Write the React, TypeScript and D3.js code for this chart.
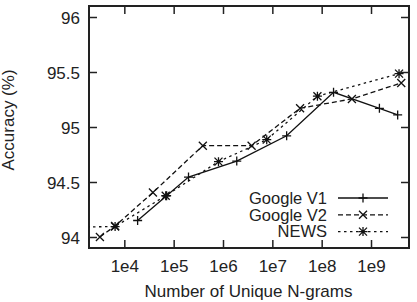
import React, { useEffect, useRef } from "react";
import * as d3 from "d3";

// Number of unique N-grams (x) vs accuracy (%) for each corpus
const v1Grams = [1.86e4, 7.2e4, 2.0e5, 1.9e6, 1.95e7, 1.74e8, 1.48e9, 3.47e9];
const v1Acc = [94.15, 94.375, 94.545, 94.69, 94.92, 95.315, 95.17, 95.11];

const v2Grams = [3.2e3, 6.5e3, 3.8e4, 3.9e5, 3.8e6, 3.65e7, 4.1e8, 4.1e9];
const v2Acc = [94.0, 94.1, 94.405, 94.83, 94.83, 95.17, 95.255, 95.4];

// first NEWS point sits left of the visible range (line enters from the edge)
const newsGrams = [1e3, 6.5e3, 6.9e4, 8.1e5, 7.7e6, 8.2e7, 3.7e9];
const newsAcc = [94.09, 94.095, 94.375, 94.685, 94.885, 95.28, 95.485];

const xTicks = [1e4, 1e5, 1e6, 1e7, 1e8, 1e9];
const xTickLabels = ["1e4", "1e5", "1e6", "1e7", "1e8", "1e9"];
const yTicks = [94, 94.5, 95, 95.5, 96];
const yTickLabels = ["94", "94.5", "95", "95.5", "96"];

const seriesNames = ["Google V1", "Google V2", "NEWS"];

const FONT = "'Liberation Sans', Arial, sans-serif";

export default function App() {
  const ref = useRef<SVGSVGElement>(null);

  useEffect(() => {
    document.body.style.margin = "0";
    const svg = d3.select(ref.current);
    svg.selectAll("*").remove();

    const left = 89, right = 409, top = 6, bottom = 248;
    const x = d3.scaleLog().domain([Math.pow(10, 3.284), Math.pow(10, 9.77)]).range([left, right]);
    const y = d3.scaleLinear().domain([93.9, 96.1]).range([bottom, top]);

    svg.append("defs").append("clipPath").attr("id", "plotclip")
      .append("rect").attr("x", left).attr("y", top)
      .attr("width", right - left).attr("height", bottom - top);

    // axes with inward ticks, mirrored on top and right
    const xAxis = svg.append("g").attr("transform", `translate(0,${bottom})`)
      .call(d3.axisBottom(x).tickValues(xTicks)
        .tickFormat((d, i) => xTickLabels[i]).tickSizeInner(-8).tickSizeOuter(0).tickPadding(12));
    svg.append("g").attr("transform", `translate(0,${top})`)
      .call(d3.axisTop(x).tickValues(xTicks).tickFormat(() => "").tickSizeInner(-8).tickSizeOuter(0));
    const yAxis = svg.append("g").attr("transform", `translate(${left},0)`)
      .call(d3.axisLeft(y).tickValues(yTicks)
        .tickFormat((d, i) => yTickLabels[i]).tickSizeInner(-8).tickSizeOuter(0).tickPadding(9));
    svg.append("g").attr("transform", `translate(${right},0)`)
      .call(d3.axisRight(y).tickValues(yTicks).tickFormat(() => "").tickSizeInner(-8).tickSizeOuter(0));

    svg.selectAll(".domain").remove();
    svg.selectAll(".tick line").attr("stroke", "#222").attr("stroke-width", 1.5);
    xAxis.selectAll("text").style("font-family", FONT).style("font-size", "17px").attr("fill", "#222");
    yAxis.selectAll("text").style("font-family", FONT).style("font-size", "17px").attr("fill", "#222")
      .attr("dy", "0.38em");

    svg.append("rect").attr("x", left).attr("y", top)
      .attr("width", right - left).attr("height", bottom - top)
      .attr("fill", "none").attr("stroke", "#222").attr("stroke-width", 2);

    // axis titles
    svg.append("text").attr("x", (left + right) / 2 - 0.5).attr("y", 297)
      .attr("text-anchor", "middle").style("font-family", FONT).style("font-size", "17px")
      .attr("fill", "#222").text("Number of Unique N-grams");
    svg.append("text").attr("transform", "translate(14,120) rotate(-90)")
      .attr("text-anchor", "middle").style("font-family", FONT).style("font-size", "17px")
      .attr("fill", "#222").text("Accuracy (%)");

    const plus = "M-4.5,0H4.5M0,-4.5V4.5";
    const cross = "M-4,-4L4,4M-4,4L4,-4";
    const star = plus + cross;

    const series = [
      { name: seriesNames[0], xs: v1Grams, ys: v1Acc, dash: null, marker: plus },
      { name: seriesNames[1], xs: v2Grams, ys: v2Acc, dash: "5,3", marker: cross },
      { name: seriesNames[2], xs: newsGrams, ys: newsAcc, dash: "2.5,3.5", marker: star },
    ];

    const line = d3.line<[number, number]>().x(d => x(d[0])).y(d => y(d[1]));
    const [xmin, xmax] = x.domain();

    series.forEach((s, si) => {
      const pts: [number, number][] = s.xs.map((v, i) => [v, s.ys[i]]);
      svg.append("path").attr("d", line(pts)).attr("clip-path", "url(#plotclip)")
        .attr("fill", "none").attr("stroke", "#111").attr("stroke-width", 1.3)
        .attr("stroke-dasharray", s.dash);
      svg.append("g").selectAll("path")
        .data(pts.filter(p => p[0] >= xmin && p[0] <= xmax))
        .join("path")
        .attr("transform", d => `translate(${x(d[0])},${y(d[1])})`)
        .attr("d", s.marker).attr("fill", "none").attr("stroke", "#111").attr("stroke-width", 1.3);

      // legend entry
      const ly = 198 + si * 16.8;
      svg.append("text").attr("x", 327).attr("y", ly).attr("dy", "0.35em")
        .attr("text-anchor", "end").style("font-family", FONT).style("font-size", "16.5px")
        .attr("fill", "#222").text(s.name);
      svg.append("line").attr("x1", 338).attr("x2", 388).attr("y1", ly).attr("y2", ly)
        .attr("stroke", "#111").attr("stroke-width", 1.3).attr("stroke-dasharray", s.dash);
      svg.append("path").attr("transform", `translate(363,${ly})`).attr("d", s.marker)
        .attr("fill", "none").attr("stroke", "#111").attr("stroke-width", 1.3);
    });
  }, []);

  return <svg ref={ref} width={417} height={302} style={{ display: "block", background: "#fff" }} />;
}
